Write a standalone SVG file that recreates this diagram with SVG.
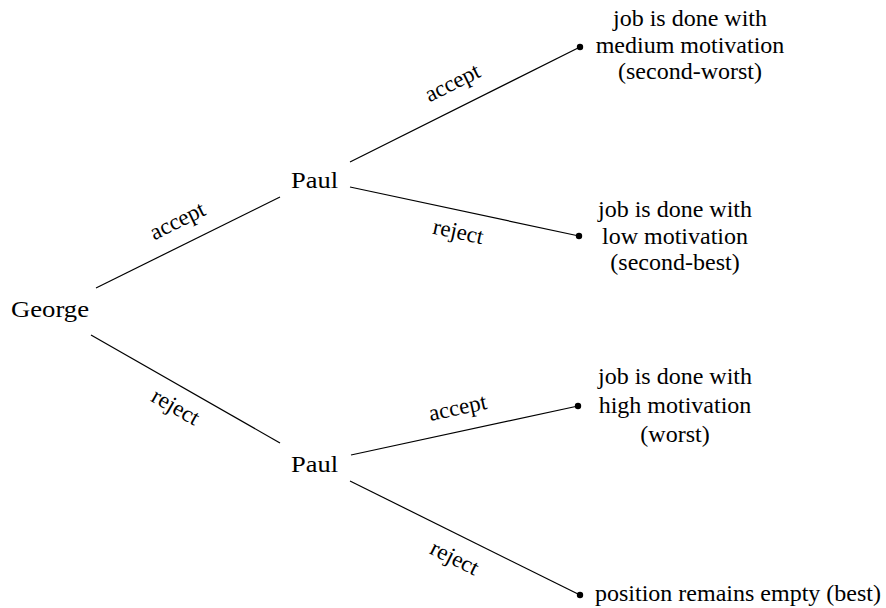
<svg xmlns="http://www.w3.org/2000/svg" width="886" height="608" viewBox="0 0 886 608">
  <style>
    .node { font-size: 24px; }
    .leaf { font-size: 24px; text-anchor: middle; }
    .edge-label { font-size: 23px; text-anchor: middle; }
    .edge { stroke: #000; stroke-width: 1.2; fill: none; }
    .dot { fill: #000; }
  </style>

  <rect width="886" height="608" fill="#fff"/>

  <g font-family="'Liberation Serif', 'Times New Roman', 'DejaVu Serif', serif" fill="#000">
  <!-- branches of the decision tree -->
  <g id="connectors">
    <line class="edge" x1="96" y1="288" x2="280" y2="197"/>
    <line class="edge" x1="91" y1="335" x2="280" y2="443"/>
    <line class="edge" x1="350" y1="162" x2="580" y2="47"/>
    <line class="edge" x1="350" y1="187" x2="579" y2="236"/>
    <line class="edge" x1="351" y1="455" x2="578" y2="406"/>
    <line class="edge" x1="350" y1="481" x2="580" y2="595"/>

    <text class="edge-label" transform="translate(178,222) rotate(-26.3)" y="6">accept</text>
    <text class="edge-label" transform="translate(175,408) rotate(29.7)" y="6">reject</text>
    <text class="edge-label" transform="translate(453,84) rotate(-26.6)" y="6">accept</text>
    <text class="edge-label" transform="translate(458,233) rotate(12.1)" y="6">reject</text>
    <text class="edge-label" transform="translate(458,409) rotate(-12.2)" y="6">accept</text>
    <text class="edge-label" transform="translate(454,559) rotate(26.5)" y="6">reject</text>
  </g>

  <!-- decision makers -->
  <g id="george">
    <text class="node" x="11" y="317" textLength="78" lengthAdjust="spacingAndGlyphs">George</text>
  </g>
  <g id="paul-top">
    <text class="node" x="291" y="188" textLength="47" lengthAdjust="spacingAndGlyphs">Paul</text>
  </g>
  <g id="paul-bottom">
    <text class="node" x="291" y="472" textLength="47" lengthAdjust="spacingAndGlyphs">Paul</text>
  </g>

  <!-- outcomes -->
  <g id="outcome-medium">
    <circle class="dot" cx="580" cy="47" r="3.2"/>
    <text class="leaf" x="690" y="26">job is done with</text>
    <text class="leaf" x="690" y="53">medium motivation</text>
    <text class="leaf" x="690" y="79">(second-worst)</text>
  </g>
  <g id="outcome-low">
    <circle class="dot" cx="579" cy="236" r="3.2"/>
    <text class="leaf" x="675" y="217">job is done with</text>
    <text class="leaf" x="675" y="244">low motivation</text>
    <text class="leaf" x="675" y="270">(second-best)</text>
  </g>
  <g id="outcome-high">
    <circle class="dot" cx="578" cy="406" r="3.2"/>
    <text class="leaf" x="675" y="384">job is done with</text>
    <text class="leaf" x="675" y="413">high motivation</text>
    <text class="leaf" x="675" y="442">(worst)</text>
  </g>
  <g id="outcome-empty">
    <circle class="dot" cx="580" cy="595" r="3.2"/>
    <text class="node" x="595" y="601">position remains empty (best)</text>
  </g>
  </g>
</svg>
